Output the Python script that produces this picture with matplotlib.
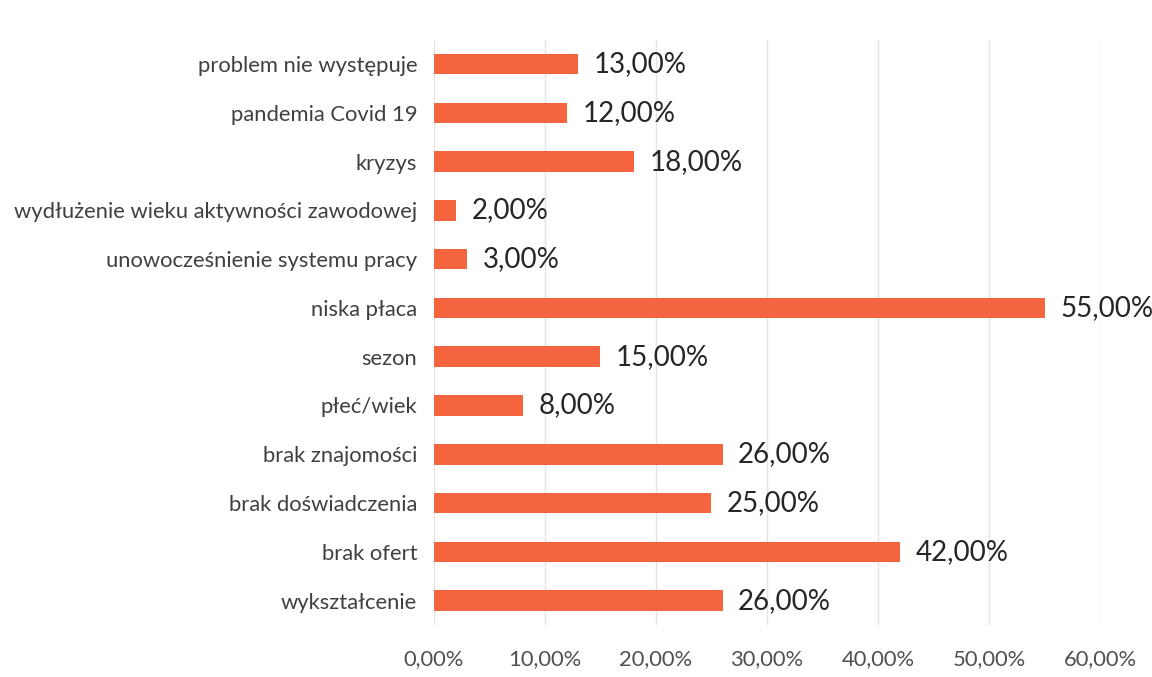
import matplotlib.pyplot as plt
from matplotlib.ticker import FuncFormatter

categories = ["problem nie występuje", "pandemia Covid 19", "kryzys",
              "wydłużenie wieku aktywności zawodowej",
              "unowocześnienie systemu pracy", "niska płaca", "sezon",
              "płeć/wiek", "brak znajomości", "brak doświadczenia",
              "brak ofert", "wykształcenie"]
values = [13, 12, 18, 2, 3, 55, 15, 8, 26, 25, 42, 26]

plt.rcParams['font.family'] = ['Lato', 'DejaVu Sans']

fig = plt.figure(figsize=(11.52, 6.77), dpi=100)
ax = fig.add_axes([0.3767, 0.0768, 0.5782, 0.8647])

ypos = list(range(len(categories)))
ax.barh(ypos, values, height=0.42, color='#F4643F', zorder=3)
for y, v in zip(ypos, values):
    ax.text(v + 1.4, y, f"{v:.2f}%".replace('.', ','), va='center', ha='left',
            fontsize=20, color='#262626')

ax.set_yticks(ypos)
ax.set_yticklabels(categories, fontsize=15.8, color='#404040')
ax.set_ylim(len(categories) - 0.5, -0.5)
ax.set_xlim(0, 60)
ax.set_xticks(range(0, 61, 10))
ax.xaxis.set_major_formatter(FuncFormatter(lambda x, p: f"{x:.2f}%".replace('.', ',')))
ax.tick_params(axis='x', labelsize=15.8, colors='#505050', length=0, pad=17)
ax.tick_params(axis='y', length=0, pad=12)
ax.grid(axis='x', color='#E4E4E4', linewidth=1, zorder=0)
for s in ax.spines.values():
    s.set_visible(False)

fig.savefig('out.png', dpi=100, facecolor='white')
